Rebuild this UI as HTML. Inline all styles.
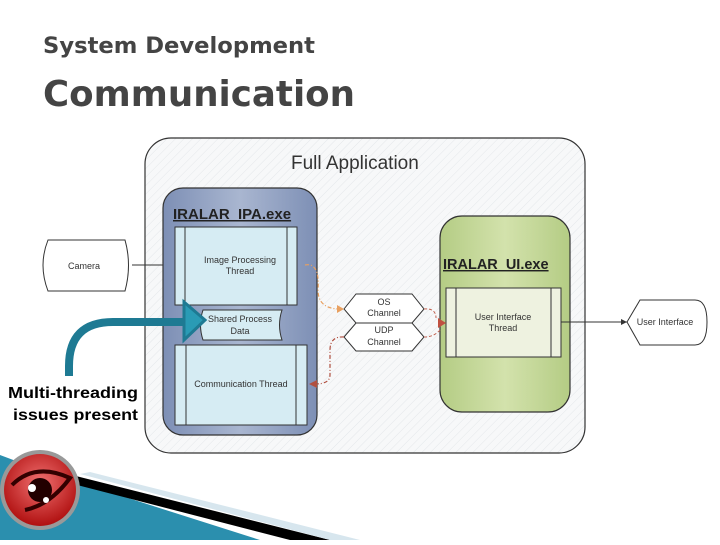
<!DOCTYPE html>
<html><head><style>
body{margin:0;width:720px;height:540px;overflow:hidden;background:#fff;font-family:"Liberation Sans",sans-serif}
</style></head><body>
<svg width="720" height="540" viewBox="0 0 720 540" xmlns="http://www.w3.org/2000/svg" font-family="Liberation Sans, sans-serif">
<defs>
<pattern id="h" width="6" height="6" patternUnits="userSpaceOnUse" patternTransform="rotate(45)"><rect width="6" height="6" fill="#f7f8f9"/><line x1="0" y1="0" x2="0" y2="6" stroke="#e4e7ea" stroke-width="1"/></pattern>
<linearGradient id="bl" x1="0" y1="0" x2="1" y2="0"><stop offset="0" stop-color="#7d8fb5"/><stop offset="0.5" stop-color="#a9b6d0"/><stop offset="1" stop-color="#7d8fb5"/></linearGradient>
<linearGradient id="gr" x1="0" y1="0" x2="1" y2="0"><stop offset="0" stop-color="#b4cc84"/><stop offset="0.5" stop-color="#d3e2ac"/><stop offset="1" stop-color="#b4cc84"/></linearGradient>
<radialGradient id="eye" cx="0.5" cy="0.4" r="0.6"><stop offset="0" stop-color="#f07070"/><stop offset="1" stop-color="#b01010"/></radialGradient>
</defs>
<text x="43" y="53" font-size="22" fill="#444" font-family="DejaVu Sans, sans-serif" font-weight="bold" textLength="272" lengthAdjust="spacingAndGlyphs">System Development</text>
<text x="43" y="106" font-size="36" fill="#444" font-family="DejaVu Sans, sans-serif" font-weight="bold" textLength="312" lengthAdjust="spacingAndGlyphs">Communication</text>
<rect x="145" y="138" width="440" height="315" rx="26" fill="url(#h)" stroke="#333" stroke-width="1.2"/>
<text x="291" y="169" font-size="19" fill="#333">Full Application</text>
<path d="M48,240 H125 Q132,265 125,291 H48 Q38,265 48,240 Z" fill="#fff" stroke="#333"/>
<text x="68" y="269" font-size="9" fill="#333">Camera</text>
<line x1="132" y1="265" x2="175" y2="265" stroke="#333"/>
<polygon points="175,265 169,262 169,268" fill="#333"/>
<rect x="163" y="188" width="154" height="247" rx="20" fill="url(#bl)" stroke="#333" stroke-width="1.2"/>
<text x="173" y="219" font-size="15" font-weight="bold" fill="#222" text-decoration="underline">IRALAR_IPA.exe</text>
<rect x="175" y="227" width="122" height="78" fill="#d6ecf3" stroke="#333"/>
<line x1="185" y1="227" x2="185" y2="305" stroke="#333"/>
<line x1="287" y1="227" x2="287" y2="305" stroke="#333"/>
<text x="240" y="263" font-size="9" fill="#333" text-anchor="middle">Image Processing</text>
<text x="240" y="274" font-size="9" fill="#333" text-anchor="middle">Thread</text>
<path d="M203,310 H282 Q277,325 282,340 H203 Q198,325 203,310 Z" fill="#d6ecf3" stroke="#333"/>
<text x="240" y="322" font-size="9" fill="#333" text-anchor="middle">Shared Process</text>
<text x="240" y="334" font-size="9" fill="#333" text-anchor="middle">Data</text>
<rect x="175" y="345" width="132" height="80" fill="#d6ecf3" stroke="#333"/>
<line x1="186" y1="345" x2="186" y2="425" stroke="#333"/><line x1="296" y1="345" x2="296" y2="425" stroke="#333"/>
<text x="241" y="387" font-size="9" fill="#333" text-anchor="middle">Communication Thread</text>
<rect x="440" y="216" width="130" height="196" rx="22" fill="url(#gr)" stroke="#333" stroke-width="1.2"/>
<text x="443" y="269" font-size="14.5" font-weight="bold" fill="#222" text-decoration="underline">IRALAR_UI.exe</text>
<rect x="446" y="288" width="115" height="69" fill="#eef2e0" stroke="#333"/>
<line x1="456" y1="288" x2="456" y2="357" stroke="#333"/><line x1="551" y1="288" x2="551" y2="357" stroke="#333"/>
<text x="503" y="320" font-size="9" fill="#333" text-anchor="middle">User Interface</text>
<text x="503" y="331" font-size="9" fill="#333" text-anchor="middle">Thread</text>
<polygon points="344,309 356,294 412,294 424,309 412,323 356,323" fill="#fff" stroke="#333"/>
<polygon points="344,337 356,323 412,323 424,337 412,351 356,351" fill="#fff" stroke="#333"/>
<text x="384" y="305" font-size="9" fill="#333" text-anchor="middle">OS</text>
<text x="384" y="316" font-size="9" fill="#333" text-anchor="middle">Channel</text>
<text x="384" y="333" font-size="9" fill="#333" text-anchor="middle">UDP</text>
<text x="384" y="345" font-size="9" fill="#333" text-anchor="middle">Channel</text>
<path d="M305,265 Q320,262 318,290 Q318,309 340,309" fill="none" stroke="#e8a060" stroke-width="1.2" stroke-dasharray="4,2,1,2"/>
<polygon points="344,309 337,305 337,313" fill="#e8a060"/>
<path d="M424,309 Q436,308 436,318" fill="none" stroke="#c06050" stroke-dasharray="3,2"/>
<polygon points="446,323 438,318 438,328" fill="#c05040"/>
<path d="M424,337 Q434,337 440,330" fill="none" stroke="#c06050" stroke-dasharray="3,2"/>
<path d="M344,337 Q330,336 330,350 V375 Q330,384 315,384" fill="none" stroke="#b05040" stroke-width="1.2" stroke-dasharray="4,2,1,2"/>
<polygon points="309,384 317,380 317,388" fill="#b05040"/>
<line x1="561" y1="322" x2="627" y2="322" stroke="#333"/>
<polygon points="627,322 621,319 621,325" fill="#333"/>
<path d="M640,300 H695 Q707,300 707,322 Q707,345 695,345 H640 L627,322 Z" fill="#fff" stroke="#333"/>
<text x="665" y="325" font-size="9" fill="#333" text-anchor="middle">User Interface</text>
<path d="M69,376 V366 Q69,322 113,322 H186" fill="none" stroke="#1e7a93" stroke-width="8"/>
<polygon points="184,302 205,320 184,340" fill="#2a9bb5" stroke="#1e7a93" stroke-width="3"/>
<text x="8" y="398" font-size="16" font-weight="bold" fill="#000" textLength="130" lengthAdjust="spacingAndGlyphs">Multi-threading</text>
<text x="13" y="420" font-size="16" font-weight="bold" fill="#000" textLength="125" lengthAdjust="spacingAndGlyphs">issues present</text>
<polygon points="0,455 40,470 260,540 0,540" fill="#2b8fae"/>
<polygon points="60,472 330,540 290,540 50,478" fill="#000"/>
<polygon points="90,472 360,540 330,540 80,474" fill="#d7e6ee"/>
<circle cx="40" cy="490" r="40" fill="#999"/>
<circle cx="40" cy="490" r="36" fill="url(#eye)"/>
<path d="M12,485 Q35,462 70,478 Q50,505 25,510" fill="none" stroke="#300" stroke-width="4"/>
<circle cx="40" cy="490" r="12" fill="#200"/>
<circle cx="32" cy="488" r="4" fill="#fff"/><circle cx="46" cy="500" r="3" fill="#fff"/>
</svg>
</body></html>
